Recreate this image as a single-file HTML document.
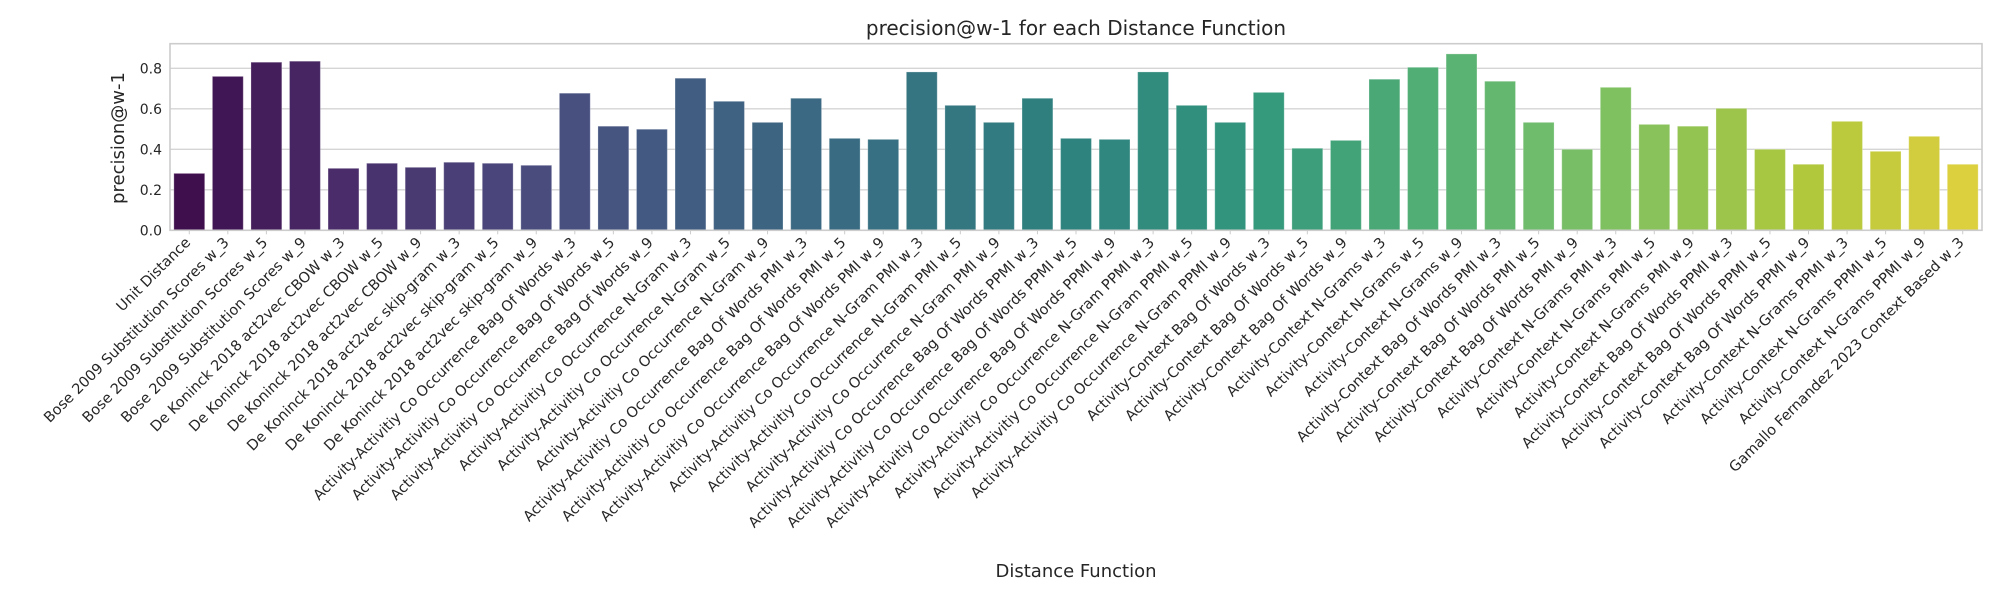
<!DOCTYPE html>
<html><head><meta charset="utf-8"><style>
html,body{margin:0;padding:0;background:#fff;}
svg text{font-family:"DejaVu Sans","Liberation Sans",sans-serif;fill:#262626;}
</style></head><body>
<svg id="chart" width="2000" height="600" viewBox="0 0 2000 600" xmlns="http://www.w3.org/2000/svg">
<text x="1076" y="35" font-size="20" text-anchor="middle">precision@w-1 for each Distance Function</text>
<text transform="translate(124,138) rotate(-90)" font-size="18" text-anchor="middle">precision@w-1</text>
<text x="1076" y="577" font-size="18" text-anchor="middle">Distance Function</text>
<g id="grid"></g><g id="bars"></g><g id="xt"></g><g id="yt"></g>
<rect x="170" y="43.7" width="1812" height="186.6" fill="none" stroke="#cccccc" stroke-width="1.6"/>
</svg>
<script>
const categories = ["Unit Distance","Bose 2009 Substitution Scores w_3","Bose 2009 Substitution Scores w_5","Bose 2009 Substitution Scores w_9",
"De Koninck 2018 act2vec CBOW w_3","De Koninck 2018 act2vec CBOW w_5","De Koninck 2018 act2vec CBOW w_9",
"De Koninck 2018 act2vec skip-gram w_3","De Koninck 2018 act2vec skip-gram w_5","De Koninck 2018 act2vec skip-gram w_9",
"Activity-Activitiy Co Occurrence Bag Of Words w_3","Activity-Activitiy Co Occurrence Bag Of Words w_5","Activity-Activitiy Co Occurrence Bag Of Words w_9",
"Activity-Activitiy Co Occurrence N-Gram w_3","Activity-Activitiy Co Occurrence N-Gram w_5","Activity-Activitiy Co Occurrence N-Gram w_9",
"Activity-Activitiy Co Occurrence Bag Of Words PMI w_3","Activity-Activitiy Co Occurrence Bag Of Words PMI w_5","Activity-Activitiy Co Occurrence Bag Of Words PMI w_9",
"Activity-Activitiy Co Occurrence N-Gram PMI w_3","Activity-Activitiy Co Occurrence N-Gram PMI w_5","Activity-Activitiy Co Occurrence N-Gram PMI w_9",
"Activity-Activitiy Co Occurrence Bag Of Words PPMI w_3","Activity-Activitiy Co Occurrence Bag Of Words PPMI w_5","Activity-Activitiy Co Occurrence Bag Of Words PPMI w_9",
"Activity-Activitiy Co Occurrence N-Gram PPMI w_3","Activity-Activitiy Co Occurrence N-Gram PPMI w_5","Activity-Activitiy Co Occurrence N-Gram PPMI w_9",
"Activity-Context Bag Of Words w_3","Activity-Context Bag Of Words w_5","Activity-Context Bag Of Words w_9",
"Activity-Context N-Grams w_3","Activity-Context N-Grams w_5","Activity-Context N-Grams w_9",
"Activity-Context Bag Of Words PMI w_3","Activity-Context Bag Of Words PMI w_5","Activity-Context Bag Of Words PMI w_9",
"Activity-Context N-Grams PMI w_3","Activity-Context N-Grams PMI w_5","Activity-Context N-Grams PMI w_9",
"Activity-Context Bag Of Words PPMI w_3","Activity-Context Bag Of Words PPMI w_5","Activity-Context Bag Of Words PPMI w_9",
"Activity-Context N-Grams PPMI w_3","Activity-Context N-Grams PPMI w_5","Activity-Context N-Grams PPMI w_9",
"Gamallo Fernandez 2023 Context Based w_3"];
const values = [0.281,0.760,0.830,0.835,0.306,0.331,0.311,0.336,0.331,0.321,
0.677,0.514,0.499,0.751,0.637,0.533,0.652,0.454,0.449,0.782,0.617,0.533,0.652,0.454,0.449,0.782,0.617,0.533,
0.681,0.405,0.444,0.746,0.805,0.871,0.736,0.533,0.400,0.706,0.523,0.514,0.602,0.400,0.326,0.538,0.390,0.464,0.326];
const yTicks = [0.0,0.2,0.4,0.6,0.8];
const yTickLabels = ["0.0","0.2","0.4","0.6","0.8"];

const NS="http://www.w3.org/2000/svg";
const L=170,R=1982,T=43.7,B=230.3,PX08=162;
const y=v=>B-(v/0.8)*PX08;
const band=(R-L)/categories.length;
const x=i=>L+band*(i+0.5);
const vir=[[68,1,84],[72,36,117],[65,68,135],[53,95,141],[42,120,142],[33,145,140],[34,168,132],[68,191,112],[122,209,81],[189,223,38],[253,231,37]];
function cmap(t){const p=t*10,i=Math.min(9,Math.floor(p)),f=p-i;return vir[i].map((c,k)=>c+(vir[i+1][k]-c)*f);}
function desat(rgb,s){let [r,g,b]=rgb.map(c=>c/255);const mx=Math.max(r,g,b),mn=Math.min(r,g,b);let h=0,l=(mx+mn)/2,d=mx-mn,sa=0;
if(d){sa=l>0.5?d/(2-mx-mn):d/(mx+mn);h=mx===r?((g-b)/d+(g<b?6:0)):mx===g?(b-r)/d+2:(r-g)/d+4;h/=6;}
sa*=s;const q=l<0.5?l*(1+sa):l+sa-l*sa,pp=2*l-q;
const hu=t=>{t<0&&(t+=1);t>1&&(t-=1);return t<1/6?pp+(q-pp)*6*t:t<1/2?q:t<2/3?pp+(q-pp)*(2/3-t)*6:pp;};
return `rgb(${[hu(h+1/3),hu(h),hu(h-1/3)].map(c=>Math.round(c*255)).join(',')})`;}
const grid=document.getElementById('grid'),yt=document.getElementById('yt');
yTicks.forEach((v,i)=>{
 const ln=document.createElementNS(NS,'line');
 
 
 ln.setAttribute('x1',L);ln.setAttribute('x2',R);ln.setAttribute('y1',y(v));ln.setAttribute('y2',y(v));
 ln.setAttribute('stroke','#d5d5d5');ln.setAttribute('stroke-width','1.3');grid.appendChild(ln);
 const t=document.createElementNS(NS,'text');
 
 
 t.setAttribute('x',L-8);t.setAttribute('y',y(v)+5);t.setAttribute('text-anchor','end');t.setAttribute('font-size','14');
 t.textContent=yTickLabels[i];yt.appendChild(t);
});
const bars=document.getElementById('bars'),xt=document.getElementById('xt');
const n=categories.length;
categories.forEach((c,i)=>{
 const bw=band*0.8,col=desat(cmap(0.01+0.98*i/(n-1)),0.75);
 const r=document.createElementNS(NS,'rect');
 
 
 r.setAttribute('x',x(i)-bw/2);r.setAttribute('y',y(values[i]));r.setAttribute('width',bw);r.setAttribute('height',B-y(values[i]));
 r.setAttribute('fill',col);r.setAttribute('stroke','rgba(255,255,255,0.25)');r.setAttribute('stroke-width','1');bars.appendChild(r);
 const tk=document.createElementNS(NS,'line');
 
 
 tk.setAttribute('x1',x(i));tk.setAttribute('x2',x(i));tk.setAttribute('y1',B);tk.setAttribute('y2',B+4);tk.setAttribute('stroke','#cccccc');xt.appendChild(tk);
 const t=document.createElementNS(NS,'text');
 
 
 const ax=x(i)+2,ay=B+13;
 t.setAttribute('x',ax);t.setAttribute('y',ay);t.setAttribute('text-anchor','end');t.setAttribute('font-size','14.5');
 t.setAttribute('transform',`rotate(-45 ${ax} ${ay})`);t.textContent=c;xt.appendChild(t);
});
</script>
</body></html>
